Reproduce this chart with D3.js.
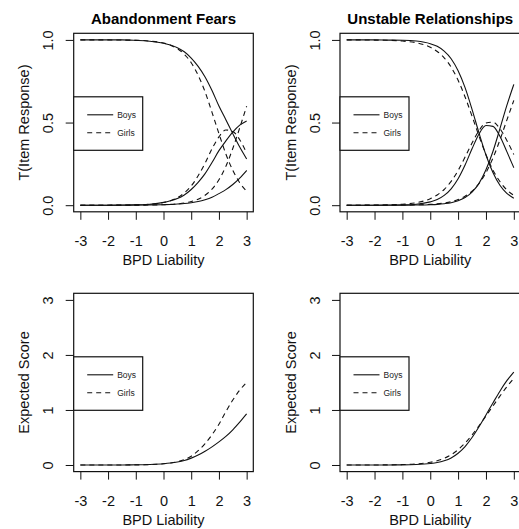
<!DOCTYPE html>
<html>
<head>
<meta charset="utf-8">
<script src="https://cdn.jsdelivr.net/npm/d3@7"></script>
<style>
body { margin: 0; background: #fff; }
svg { display: block; font-family: "Liberation Sans", Arial, sans-serif; }
</style>
</head>
<body>
<svg id="chart" width="519" height="529"></svg>
<script>
// BPD liability grid (x)
var liability = [-3, -2.5, -2, -1.5, -1, -0.5, 0, 0.25, 0.5, 0.75, 1, 1.25, 1.5, 1.75, 2, 2.25, 2.5, 2.75, 3];
var xTicks = [-3, -2, -1, 0, 1, 2, 3];
var probTicks = [0, 0.5, 1];
var scoreTicks = [0, 1, 2, 3];
var groups = ["Boys", "Girls"];

//Abandonment Fears - category curves
var afBoys0 = [1, 1, 1, 1, 0.997, 0.992, 0.98, 0.969, 0.953, 0.928, 0.89, 0.84, 0.776, 0.694, 0.60, 0.517, 0.433, 0.352, 0.28];
var afBoys1 = [0, 0, 0, 0.001, 0.002, 0.006, 0.017, 0.027, 0.040, 0.062, 0.095, 0.138, 0.191, 0.258, 0.33, 0.389, 0.442, 0.484, 0.51];
var afBoys2 = [0, 0, 0, 0, 0.001, 0.002, 0.003, 0.004, 0.007, 0.010, 0.015, 0.022, 0.033, 0.048, 0.07, 0.094, 0.125, 0.164, 0.21];
var afGirls0 = [1, 1, 1, 0.999, 0.998, 0.993, 0.981, 0.968, 0.947, 0.913, 0.862, 0.786, 0.686, 0.562, 0.433, 0.31, 0.211, 0.136, 0.085];
var afGirls1 = [0, 0, 0, 0.001, 0.002, 0.006, 0.016, 0.027, 0.045, 0.074, 0.116, 0.178, 0.254, 0.341, 0.413, 0.455, 0.446, 0.396, 0.316];
var afGirls2 = [0, 0, 0, 0, 0, 0.001, 0.003, 0.005, 0.008, 0.013, 0.022, 0.036, 0.06, 0.097, 0.154, 0.235, 0.343, 0.468, 0.599];

//Unstable Relationships - category curves
var urBoys0 = [1, 1, 1, 0.999, 0.998, 0.993, 0.977, 0.961, 0.932, 0.886, 0.813, 0.711, 0.58, 0.437, 0.304, 0.198, 0.121, 0.072, 0.042];
var urBoys1 = [0, 0, 0, 0.001, 0.002, 0.006, 0.02, 0.034, 0.059, 0.099, 0.16, 0.243, 0.341, 0.431, 0.482, 0.477, 0.417, 0.324, 0.227];
var urBoys2 = [0, 0, 0, 0, 0, 0.001, 0.003, 0.005, 0.009, 0.015, 0.027, 0.046, 0.079, 0.132, 0.214, 0.325, 0.462, 0.604, 0.731];
var urGirls0 = [1, 1, 0.999, 0.998, 0.993, 0.983, 0.956, 0.93, 0.892, 0.835, 0.756, 0.655, 0.539, 0.418, 0.306, 0.213, 0.143, 0.093, 0.059];
var urGirls1 = [0, 0, 0.001, 0.002, 0.006, 0.015, 0.039, 0.062, 0.095, 0.144, 0.21, 0.291, 0.376, 0.451, 0.497, 0.502, 0.463, 0.392, 0.307];
var urGirls2 = [0, 0, 0, 0, 0.001, 0.002, 0.005, 0.008, 0.013, 0.021, 0.034, 0.054, 0.085, 0.131, 0.197, 0.285, 0.394, 0.515, 0.634];

//Expected scores
var afBoysScore = [0, 0, 0, 0.001, 0.004, 0.010, 0.023, 0.035, 0.053, 0.08, 0.125, 0.18, 0.25, 0.33, 0.42, 0.52, 0.64, 0.78, 0.93];
var afGirlsScore = [0, 0, 0, 0.001, 0.002, 0.008, 0.022, 0.037, 0.06, 0.10, 0.16, 0.26, 0.39, 0.55, 0.74, 0.97, 1.18, 1.36, 1.50];
var urBoysScore = [0, 0, 0, 0.001, 0.002, 0.008, 0.026, 0.044, 0.077, 0.129, 0.214, 0.335, 0.499, 0.695, 0.91, 1.127, 1.341, 1.532, 1.689];
var urGirlsScore = [0, 0, 0.001, 0.002, 0.008, 0.019, 0.049, 0.078, 0.121, 0.186, 0.278, 0.399, 0.546, 0.713, 0.891, 1.072, 1.251, 1.422, 1.575];

var svg = d3.select("#chart");
var fs = 14.5;

function draw_panel(p) {
    var x = d3.scaleLinear().domain([-3.24, 3.24]).range([p.left, p.right]);
    var y = d3.scaleLinear().domain(p.ydom).range([p.bottom, p.top]);
    var g = svg.append("g");

    var line = d3.line()
        .x(function (d, i) { return x(liability[i]); })
        .y(function (d) { return y(d); })
        .curve(d3.curveMonotoneX);

    p.series.forEach(function (s) {
        g.append("path")
            .attr("d", line(s.values))
            .attr("fill", "none")
            .attr("stroke", "#111")
            .attr("stroke-width", 1.1)
            .attr("stroke-dasharray", s.group == "Girls" ? "5,4" : null);
    });

    // x axis
    var xa = g.append("g")
        .attr("transform", `translate(0,${p.bottom})`)
        .call(d3.axisBottom(x).tickValues(xTicks).tickSize(8).tickPadding(15.7)
            .tickFormat(function (d) { return String(d); }));
    xa.select(".domain").remove();
    xa.attr("font-size", fs).attr("font-family", null).attr("color", "#111");

    // y axis, labels parallel to axis
    var ya = g.append("g")
        .attr("transform", `translate(${p.left},0)`)
        .call(d3.axisLeft(y).tickValues(p.yticks).tickSize(8).tickFormat(p.fmt));
    ya.select(".domain").remove();
    ya.attr("font-size", fs).attr("font-family", null).attr("color", "#111");
    ya.selectAll("text")
        .attr("transform", "rotate(-90)")
        .attr("x", 0).attr("y", -20.5).attr("dy", null)
        .attr("text-anchor", "middle");

    g.append("rect")
        .attr("x", p.left).attr("y", p.top)
        .attr("width", p.right - p.left).attr("height", p.bottom - p.top)
        .attr("fill", "none").attr("stroke", "#111").attr("stroke-width", 1.2);

    var cx = (p.left + p.right) / 2;
    if (p.title)
        g.append("text").attr("x", cx).attr("y", 23.5)
            .attr("text-anchor", "middle").attr("font-weight", "bold").attr("font-size", 15)
            .text(p.title);

    g.append("text").attr("x", cx).attr("y", p.bottom + 53)
        .attr("text-anchor", "middle").attr("font-size", fs).attr("fill", "#111")
        .text("BPD Liability");

    g.append("text")
        .attr("transform", `translate(${p.left - 44.3},${(p.top + p.bottom) / 2}) rotate(-90)`)
        .attr("text-anchor", "middle").attr("font-size", fs).attr("fill", "#111")
        .text(p.ylabel);

    // legend
    var lg = g.append("g").attr("transform", `translate(${p.left},${p.top + 63.5})`);
    lg.append("rect").attr("width", 69).attr("height", 53.5)
        .attr("fill", "#fff").attr("stroke", "#111").attr("stroke-width", 1.2);
    groups.forEach(function (name, i) {
        lg.append("line").attr("x1", 13.5).attr("x2", 39.5)
            .attr("y1", 18 + i * 18).attr("y2", 18 + i * 18)
            .attr("stroke", "#111").attr("stroke-width", 1.1)
            .attr("stroke-dasharray", name == "Girls" ? "5,4" : null);
        lg.append("text").attr("x", 43.5).attr("y", 18 + i * 18).attr("dy", "0.33em")
            .attr("font-size", 8.5).attr("fill", "#222").text(name);
    });
}

var fmtProb = d3.format(".1f");
var fmtScore = d3.format("d");

draw_panel({
    left: 73.7, right: 253.3, top: 33.3, bottom: 211.8, ydom: [-0.04, 1.04],
    yticks: probTicks, fmt: fmtProb, title: "Abandonment Fears", ylabel: "T(Item Response)",
    series: [
        { group: "Boys", values: afBoys0 }, { group: "Boys", values: afBoys1 }, { group: "Boys", values: afBoys2 },
        { group: "Girls", values: afGirls0 }, { group: "Girls", values: afGirls1 }, { group: "Girls", values: afGirls2 }
    ]
});
draw_panel({
    left: 340, right: 520.5, top: 33.3, bottom: 211.8, ydom: [-0.04, 1.04],
    yticks: probTicks, fmt: fmtProb, title: "Unstable Relationships", ylabel: "T(Item Response)",
    series: [
        { group: "Boys", values: urBoys0 }, { group: "Boys", values: urBoys1 }, { group: "Boys", values: urBoys2 },
        { group: "Girls", values: urGirls0 }, { group: "Girls", values: urGirls1 }, { group: "Girls", values: urGirls2 }
    ]
});
draw_panel({
    left: 73.7, right: 253.3, top: 293.3, bottom: 471.6, ydom: [-0.12, 3.12],
    yticks: scoreTicks, fmt: fmtScore, title: null, ylabel: "Expected Score",
    series: [{ group: "Boys", values: afBoysScore }, { group: "Girls", values: afGirlsScore }]
});
draw_panel({
    left: 340, right: 520.5, top: 293.3, bottom: 471.6, ydom: [-0.12, 3.12],
    yticks: scoreTicks, fmt: fmtScore, title: null, ylabel: "Expected Score",
    series: [{ group: "Boys", values: urBoysScore }, { group: "Girls", values: urGirlsScore }]
});
</script>
</body>
</html>
